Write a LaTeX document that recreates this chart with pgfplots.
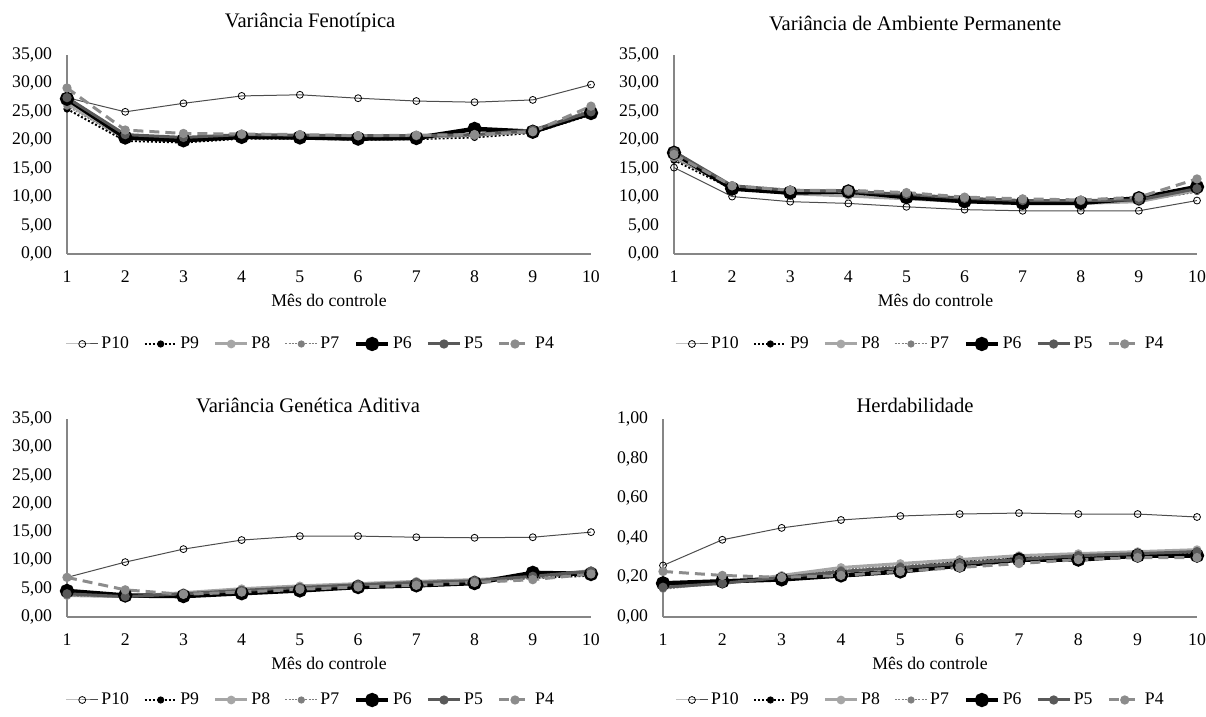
\documentclass[border=0pt]{standalone}
\usepackage{fontspec}
\setmainfont{Liberation Serif}
\usepackage{pgfplots}
\usepackage{pgfplotstable}
\pgfplotsset{compat=1.18}

\definecolor{cP10}{HTML}{4D4D4D}
\definecolor{cP8}{HTML}{A6A6A6}
\definecolor{cP7}{HTML}{7F7F7F}
\definecolor{cP5}{HTML}{595959}
\definecolor{cP4}{HTML}{8C8C8C}
\definecolor{cAx}{HTML}{868686}

\newcommand{\tk}{\fontsize{13.3pt}{16pt}\selectfont}
\newcommand{\ttl}{\fontsize{15.5pt}{18pt}\selectfont}

% Variancia fenotipica
\pgfplotstableread{
x P10 P9 P8 P7 P6 P5 P4
1 27.5 25.5 26.5 26.0 27.3 27.5 29.2
2 25.0 19.9 20.3 20.2 20.5 21.0 21.8
3 26.5 19.6 20.0 19.8 20.0 20.5 21.2
4 27.8 20.3 20.7 20.5 20.6 21.0 21.1
5 28.0 20.3 20.6 20.4 20.5 20.9 21.0
6 27.4 20.1 20.5 20.3 20.3 20.8 20.8
7 26.9 20.2 20.5 20.4 20.4 20.8 20.9
8 26.7 20.5 20.9 20.7 22.0 21.0 21.0
9 27.1 21.3 21.6 21.5 21.5 21.8 21.5
10 29.8 24.5 25.2 25.5 24.8 25.0 26.0
}\tabFen

% Variancia de ambiente permanente
\pgfplotstableread{
x P10 P9 P8 P7 P6 P5 P4
1 15.2 16.5 17.0 16.8 17.8 18.0 17.5
2 10.1 11.5 11.8 11.7 11.5 12.0 12.0
3 9.2 10.6 10.6 10.8 10.8 11.2 11.2
4 8.9 10.4 10.2 10.6 11.0 11.0 11.2
5 8.3 9.8 9.7 10.1 10.0 10.5 10.8
6 7.8 9.3 9.2 9.5 9.3 9.8 10.0
7 7.6 9.0 8.9 9.2 9.0 9.4 9.7
8 7.6 9.0 8.9 9.1 9.0 9.4 9.5
9 7.6 9.3 9.2 9.4 9.8 9.5 10.0
10 9.4 11.0 11.2 11.5 11.8 11.5 13.2
}\tabAmb

% Variancia genetica aditiva
\pgfplotstableread{
x P10 P9 P8 P7 P6 P5 P4
1 7.0 4.0 3.8 3.7 4.6 4.1 7.0
2 9.7 3.5 3.6 3.5 3.8 3.6 4.8
3 12.0 3.9 4.3 4.1 3.7 4.1 4.0
4 13.6 4.5 5.0 4.7 4.2 4.7 4.4
5 14.3 5.0 5.5 5.2 4.7 5.2 4.9
6 14.3 5.5 5.9 5.6 5.3 5.7 5.3
7 14.1 5.9 6.3 6.0 5.6 6.1 5.6
8 14.0 6.3 6.6 6.4 6.0 6.4 6.1
9 14.1 6.9 7.2 6.8 7.8 7.2 6.6
10 15.0 7.3 8.2 7.6 7.6 8.1 7.6
}\tabGen

% Herdabilidade
\pgfplotstableread{
x P10 P9 P8 P7 P6 P5 P4
1 0.26 0.17 0.15 0.14 0.17 0.15 0.23
2 0.39 0.18 0.17 0.17 0.18 0.17 0.21
3 0.45 0.20 0.21 0.20 0.19 0.20 0.20
4 0.49 0.23 0.25 0.24 0.21 0.23 0.21
5 0.51 0.25 0.27 0.26 0.23 0.25 0.23
6 0.52 0.28 0.29 0.28 0.26 0.27 0.25
7 0.525 0.30 0.31 0.30 0.29 0.29 0.27
8 0.52 0.31 0.32 0.31 0.29 0.31 0.29
9 0.52 0.31 0.33 0.32 0.31 0.32 0.30
10 0.505 0.32 0.34 0.33 0.31 0.33 0.30
}\tabHer

\pgfplotsset{
  painel/.style={
    scale only axis, clip=false,
    axis lines=left, axis line style={-},
    x axis line style={cAx, line width=1.5pt},
    y axis line style={cAx, line width=0.9pt},
    major tick length=0pt,
    xmin=1, xmax=10, xtick={1,...,10}, ymin=0,
    /pgf/number format/assume math mode=true,
    tick label style={font=\tk},
    xticklabel style={anchor=center, inner sep=0pt, yshift=-17pt},
    yticklabel style={anchor=east, inner sep=0pt, xshift=-11pt,
      /pgf/number format/.cd, fixed, fixed zerofill, precision=2, use comma},
    xlabel={Mês do controle},
    xlabel style={font=\tk, at={(axis description cs:0.5,0)}, anchor=center, yshift=-34.5pt},
    every axis title shift=0pt,
    title style={font=\ttl},
    legend columns=7,
    legend style={draw=none, font=\tk, anchor=center, inner sep=0pt,
      /tikz/every even column/.append style={column sep=9pt}},
    legend image code/.code={\draw[mark repeat=2,mark phase=2] plot coordinates {(0pt,0pt)(12pt,0pt)(24pt,0pt)};},
  },
  sP10/.style={color=cP10, line width=0.75pt, mark=o, mark size=2.6pt,
    mark options={solid, fill=white, draw=black, line width=0.6pt}},
  sP9/.style={color=black, line width=1.5pt, dash pattern=on 1.5pt off 1.5pt,
    mark=*, mark size=1.9pt, mark options={solid}},
  sP8/.style={color=cP8, line width=2.25pt, mark=*, mark size=2.1pt, mark options={solid}},
  sP7/.style={color=cP7, line width=0.75pt, dash pattern=on 1.5pt off 1pt,
    mark=*, mark size=2.3pt, mark options={solid}},
  sP6/.style={color=black, line width=3.4pt, mark=*, mark size=3.6pt, mark options={solid}},
  sP5/.style={color=cP5, line width=2.25pt, mark=*, mark size=2.3pt, mark options={solid}},
  sP4/.style={color=cP4, line width=2.25pt, dash pattern=on 7.5pt off 4.5pt,
    mark=*, mark size=2.3pt, mark options={solid}},
}

\newcommand{\series}[1]{%
  \addplot[sP10] table[x=x,y=P10] {#1}; \addlegendentry{P10}
  \addplot[sP9] table[x=x,y=P9] {#1}; \addlegendentry{P9}
  \addplot[sP8] table[x=x,y=P8] {#1}; \addlegendentry{P8}
  \addplot[sP7] table[x=x,y=P7] {#1}; \addlegendentry{P7}
  \addplot[sP6] table[x=x,y=P6] {#1}; \addlegendentry{P6}
  \addplot[sP5] table[x=x,y=P5] {#1}; \addlegendentry{P5}
  \addplot[sP4] table[x=x,y=P4] {#1}; \addlegendentry{P4}
}

\begin{document}
\begin{tikzpicture}
\path[use as bounding box] (0,0) rectangle (904.5pt,537.75pt);

\begin{axis}[painel, at={(50.25pt,347.25pt)}, anchor=south west,
  width=393pt, height=149.25pt, ymax=35, ytick={0,5,...,35},
  title={Variância Fenotípica},
  title style={at={(axis description cs:0.464,1)}, anchor=center, yshift=24pt},
  legend style={at={(axis description cs:0.466,0)}, yshift=-67.5pt}]
\series{\tabFen}
\end{axis}

\begin{axis}[painel, at={(505.5pt,347.25pt)}, anchor=south west,
  width=392.25pt, height=149.25pt, ymax=35, ytick={0,5,...,35},
  title={Variância de Ambiente Permanente},
  title style={at={(axis description cs:0.461,1)}, anchor=center, yshift=24pt},
  legend style={at={(axis description cs:0.472,0)}, yshift=-67.5pt}]
\series{\tabAmb}
\end{axis}

\begin{axis}[painel, at={(50.25pt,75pt)}, anchor=south west,
  width=393pt, height=148.5pt, ymax=35, ytick={0,5,...,35},
  title={Variância Genética Aditiva},
  title style={at={(axis description cs:0.46,1)}, anchor=center, yshift=10.5pt},
  legend style={at={(axis description cs:0.466,0)}, yshift=-62.25pt}]
\series{\tabGen}
\end{axis}

\begin{axis}[painel, at={(497.25pt,75pt)}, anchor=south west,
  width=400.5pt, height=148.5pt, ymax=1, ytick={0,0.2,0.4,0.6,0.8,1},
  title={Herdabilidade},
  title style={at={(axis description cs:0.472,1)}, anchor=center, yshift=10.5pt},
  legend style={at={(axis description cs:0.483,0)}, yshift=-62.25pt}]
\series{\tabHer}
\end{axis}
\end{tikzpicture}
\end{document}
